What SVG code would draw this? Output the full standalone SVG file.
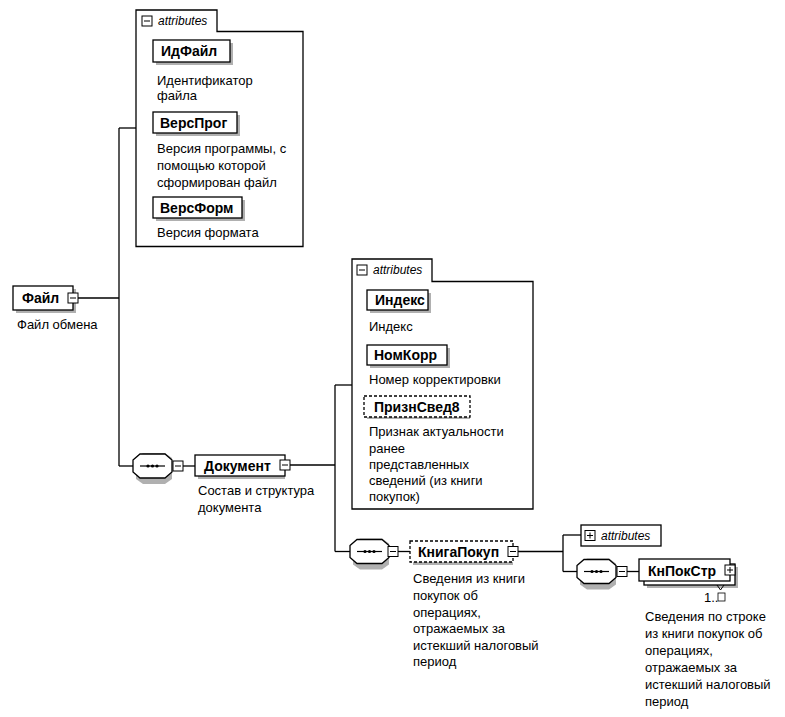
<svg xmlns="http://www.w3.org/2000/svg" width="785" height="717" viewBox="0 0 785 717">
<style>
.bg{fill:#fff}
.ln{stroke:#000;stroke-width:1.3;fill:none}
.box{fill:#fff;stroke:#000;stroke-width:1.3}
.dbox{fill:#fff;stroke:#000;stroke-width:1.3;stroke-dasharray:3,2}
.sh{fill:#b0b0b0}
.nm{font-family:"Liberation Sans",Arial,sans-serif;font-size:14px;font-weight:bold;fill:#000}
.ds{font-family:"Liberation Sans",Arial,sans-serif;font-size:13px;fill:#000}
.tab{font-family:"Liberation Sans",Arial,sans-serif;font-size:12px;font-style:italic;fill:#000}
.ic{fill:#fff;stroke:#000;stroke-width:1}
</style>
<defs>
<g id="minus"><rect class="ic" x="-5" y="-5" width="10" height="10"/><line x1="-3" y1="0" x2="3" y2="0" stroke="#000" stroke-width="1"/></g>
<g id="plus"><rect class="ic" x="-5" y="-5" width="10" height="10"/><line x1="-3" y1="0" x2="3" y2="0" stroke="#000" stroke-width="1"/><line x1="0" y1="-3" x2="0" y2="3" stroke="#000" stroke-width="1"/></g>
<g id="seq">
<polygon points="3,4 10,-1 32,-1 39,4 39,25 32,30 10,30 3,25" class="sh"/>
<polygon points="0,6 7,0 32,0 39,6 39,18 32,24 7,24 0,18" class="box"/>
<line x1="7" y1="12" x2="32" y2="12" stroke="#000" stroke-width="1.2"/>
<circle cx="15" cy="12" r="1.6"/><circle cx="19.5" cy="12" r="1.6"/><circle cx="24" cy="12" r="1.6"/>
</g>
</defs>
<rect class="bg" x="0" y="0" width="785" height="717"/>

<g id="connectors">
<line class="ln" x1="78" y1="298" x2="119" y2="298"/>
<line class="ln" x1="119" y1="128" x2="119" y2="466"/>
<line class="ln" x1="119" y1="128" x2="136" y2="128"/>
<line class="ln" x1="119" y1="466" x2="133" y2="466"/>
<line class="ln" x1="183" y1="466" x2="195" y2="466"/>
<line class="ln" x1="290" y1="465" x2="335" y2="465"/>
<line class="ln" x1="335" y1="385" x2="335" y2="551.5"/>
<line class="ln" x1="335" y1="385" x2="352" y2="385"/>
<line class="ln" x1="335" y1="551.5" x2="350" y2="551.5"/>
<line class="ln" x1="398" y1="551.5" x2="410" y2="551.5"/>
<line class="ln" x1="518" y1="551.5" x2="563" y2="551.5"/>
<line class="ln" x1="563" y1="535" x2="563" y2="571.5"/>
<line class="ln" x1="563" y1="535" x2="581" y2="535"/>
<line class="ln" x1="563" y1="571.5" x2="577" y2="571.5"/>
<line class="ln" x1="627" y1="571.5" x2="639" y2="571.5"/>
</g>

<g id="attrs1">
<path class="box" d="M136,31.5 L136,10 L217,10 L217,31.5 L303,31.5 L303,246.5 L136,246.5 Z"/>
<use href="#minus" x="147" y="21"/>
<text class="tab" x="158" y="25">attributes</text>
</g>
<g id="ИдФайл">
<rect class="sh" x="156" y="43" width="77" height="22"/>
<rect class="box" x="153" y="40" width="77" height="22"/>
<text class="nm" x="161" y="56">ИдФайл</text>
<text class="ds" x="157" y="85">Идентификатор</text>
<text class="ds" x="157" y="100">файла</text>
</g>
<g id="ВерсПрог">
<rect class="sh" x="156" y="115" width="84" height="21"/>
<rect class="box" x="153" y="112" width="84" height="21"/>
<text class="nm" x="160" y="127.5">ВерсПрог</text>
<text class="ds" x="157" y="153">Версия программы, с</text>
<text class="ds" x="157" y="170">помощью которой</text>
<text class="ds" x="157" y="187">сформирован файл</text>
</g>
<g id="ВерсФорм">
<rect class="sh" x="156" y="200" width="89" height="21"/>
<rect class="box" x="153" y="197" width="89" height="21"/>
<text class="nm" x="160" y="212.5">ВерсФорм</text>
<text class="ds" x="157" y="237">Версия формата</text>
</g>

<g id="Файл">
<rect class="sh" x="16" y="289" width="60" height="24"/>
<rect class="box" x="13" y="286" width="60" height="24"/>
<text class="nm" x="22" y="303">Файл</text>
<use href="#minus" x="73" y="298"/>
<text class="ds" x="17" y="329">Файл обмена</text>
</g>

<g id="seq1">
<use href="#seq" x="133" y="454"/>
<use href="#minus" x="178" y="466"/>
</g>

<g id="Документ">
<rect class="sh" x="198" y="458" width="87" height="21"/>
<rect class="box" x="195" y="455" width="90" height="21"/>
<text class="nm" x="204" y="470.5">Документ</text>
<use href="#minus" x="285" y="465"/>
<text class="ds" x="198" y="495">Состав и структура</text>
<text class="ds" x="198" y="512">документа</text>
</g>

<g id="attrs2">
<path class="box" d="M352,281.5 L352,259 L432,259 L432,281.5 L533,281.5 L533,509 L352,509 Z"/>
<use href="#minus" x="362" y="270"/>
<text class="tab" x="373" y="274">attributes</text>
</g>
<g id="Индекс">
<rect class="sh" x="370" y="293" width="61" height="20"/>
<rect class="box" x="367" y="290" width="61" height="20"/>
<text class="nm" x="375" y="305">Индекс</text>
<text class="ds" x="369" y="331">Индекс</text>
</g>
<g id="НомКорр">
<rect class="sh" x="370" y="348" width="80" height="20"/>
<rect class="box" x="367" y="345" width="80" height="20"/>
<text class="nm" x="374" y="360">НомКорр</text>
<text class="ds" x="369" y="384">Номер корректировки</text>
</g>
<g id="ПризнСвед8">
<rect class="sh" x="367" y="399" width="103" height="20"/>
<rect class="dbox" x="364" y="396" width="106" height="21"/>
<text class="nm" x="374" y="411.5">ПризнСвед8</text>
<text class="ds" x="369" y="436">Признак актуальности</text>
<text class="ds" x="369" y="453">ранее</text>
<text class="ds" x="369" y="469">представленных</text>
<text class="ds" x="369" y="485">сведений (из книги</text>
<text class="ds" x="369" y="501">покупок)</text>
</g>

<g id="seq2">
<use href="#seq" x="350" y="539.5"/>
<use href="#minus" x="393" y="551.5"/>
</g>

<g id="КнигаПокуп">
<rect class="sh" x="413" y="544" width="100" height="21"/>
<rect class="dbox" x="410" y="541" width="103" height="21"/>
<text class="nm" x="418" y="556.5">КнигаПокуп</text>
<use href="#minus" x="513" y="551.5"/>
<text class="ds" x="413" y="583">Сведения из книги</text>
<text class="ds" x="413" y="600">покупок об</text>
<text class="ds" x="413" y="617">операциях,</text>
<text class="ds" x="413" y="633">отражаемых за</text>
<text class="ds" x="413" y="650">истекший налоговый</text>
<text class="ds" x="413" y="666">период</text>
</g>

<g id="attrs3">
<rect class="box" x="581" y="525" width="80" height="21"/>
<use href="#plus" x="590" y="535.5"/>
<text class="tab" x="601" y="540">attributes</text>
</g>

<g id="seq3">
<use href="#seq" x="577" y="559.5"/>
<use href="#minus" x="622" y="571.5"/>
</g>

<g id="КнПокСтр">
<rect class="sh" x="647" y="567" width="91" height="21"/>
<rect class="box" x="644" y="564" width="91" height="21"/>
<rect class="box" x="639" y="559" width="91" height="22"/>
<text class="nm" x="648" y="575.5">КнПокСтр</text>
<use href="#plus" x="730" y="570"/>
<path d="M717,585 L720.5,590 L724,585" fill="none" stroke="#000" stroke-width="1"/>
<text class="ds" x="704" y="602" font-size="11">1..</text>
<rect x="718" y="593" width="7" height="8" fill="#fff" stroke="#000" stroke-width="0.8"/>
<text class="ds" x="645" y="621">Сведения по строке</text>
<text class="ds" x="645" y="638">из книги покупок об</text>
<text class="ds" x="645" y="655">операциях,</text>
<text class="ds" x="645" y="672">отражаемых за</text>
<text class="ds" x="645" y="689">истекший налоговый</text>
<text class="ds" x="645" y="706">период</text>
</g>
</svg>
